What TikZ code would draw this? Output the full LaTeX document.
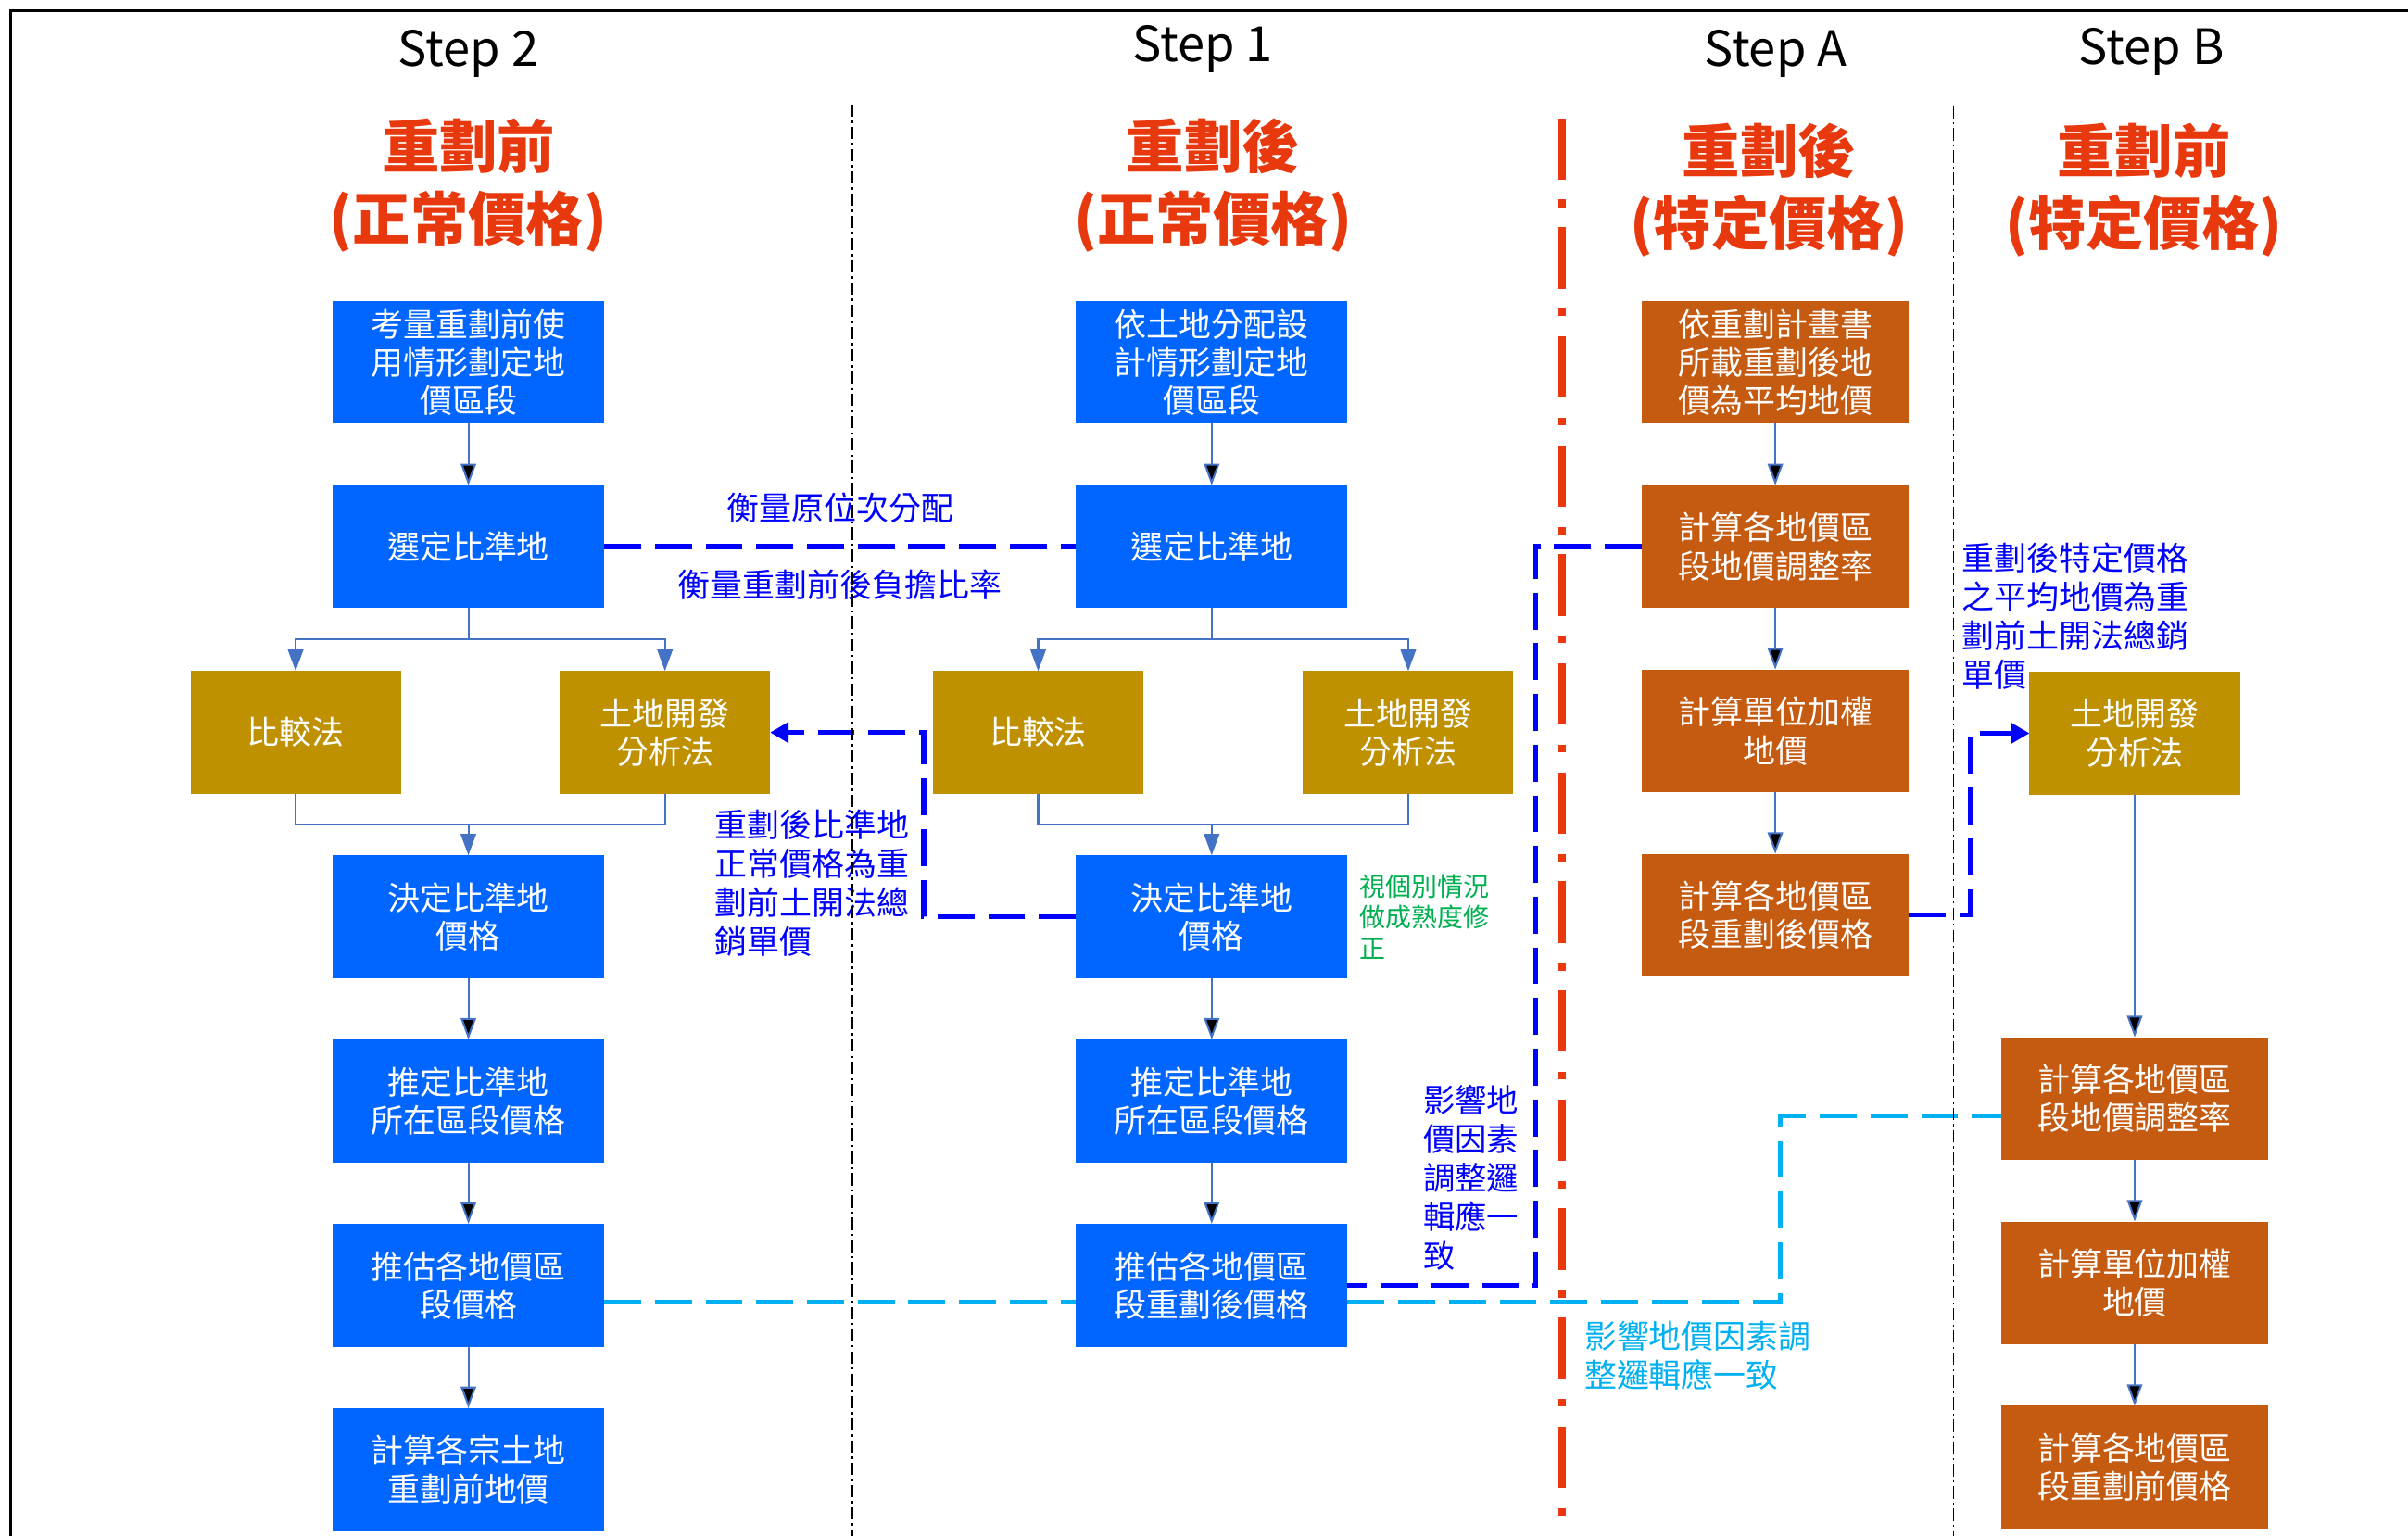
\documentclass[tikz,border=0pt]{standalone}
\usepackage{fontspec}
\setmainfont{Noto Sans CJK TC}
\usetikzlibrary{arrows.meta, positioning}
\definecolor{boxblue}{HTML}{0066FF}
\definecolor{boxgold}{HTML}{BF9000}
\definecolor{boxbrown}{HTML}{C55A11}
\definecolor{titlered}{HTML}{E8380D}
\definecolor{flowblue}{HTML}{4472C4}
\definecolor{linkblue}{HTML}{0000FF}
\definecolor{linkcyan}{HTML}{00B0F0}
\definecolor{notegreen}{HTML}{00B050}
\tikzstyle{flowchart}=[x=0.1mm, y=0.1mm, node distance=4mm, >={Triangle[length=1.4mm,width=1mm]}]
\tikzstyle{box}=[rectangle, inner sep=0pt, outer sep=0pt, minimum width=17.7mm, minimum height=8mm, align=center, text=white, font=\fontsize{6}{7.1}\selectfont]
\tikzstyle{bluebox}=[box, fill=boxblue]
\tikzstyle{goldbox}=[box, fill=boxgold, minimum width=13.7mm]
\tikzstyle{brownbox}=[box, fill=boxbrown, minimum width=17.4mm]
\tikzstyle{heading}=[font=\fontsize{9}{10}\selectfont]
\tikzstyle{period}=[text=titlered, align=center, font=\fontsize{10.7}{13.4}\selectfont\bfseries]
\tikzstyle{note}=[inner sep=0pt, anchor=west, align=left, text=linkblue, font=\fontsize{6}{7.2}\selectfont]
\tikzstyle{flow}=[draw=flowblue, line width=0.35pt, ->]
\tikzstyle{link}=[draw=linkblue, line width=0.9pt, dash pattern=on 2.4mm off 0.9mm]
\tikzstyle{cyanlink}=[draw=linkcyan, line width=0.85pt, dash pattern=on 2.4mm off 0.9mm]
\tikzstyle{linktip}=[-{Triangle[length=1.2mm,width=1.3mm]}]
\tikzstyle{divider}=[draw=black, line width=0.3pt, dash pattern=on 0.8mm off 0.25mm on 0.15mm off 0.25mm]
\tikzstyle{reddivider}=[draw=titlered, line width=1.3pt, dash pattern=on 4mm off 1.3mm on 0.5mm off 1.3mm]

\begin{document}
\begin{tikzpicture}[flowchart]
  \useasboundingbox (0,0) rectangle (1568,1000);
  \draw[line width=0.6pt] (7,0) -- (7,993) -- (1568,993);

  \node[heading] (h2) at (305,965) {Step 2};
  \node[heading] (h1) at (783,968) {Step 1};
  \node[heading] (hA) at (1156,965) {Step A};
  \node[heading] (hB) at (1401,966) {Step B};
  \node[period] (p2) at (305,879) {重劃前\\(正常價格)};
  \node[period] (p1) at (790,879) {重劃後\\(正常價格)};
  \node[period] (pA) at (1152,876) {重劃後\\(特定價格)};
  \node[period] (pB) at (1396,876) {重劃前\\(特定價格)};

  \node[bluebox] (b1) at (305,764) {考量重劃前使\\用情形劃定地\\價區段};
  \node[bluebox] (b2) [below=of b1] {選定比準地};
  \node[goldbox] (cmp1) [below=4.1mm of b2, xshift=-11.25mm] {比較法};
  \node[goldbox] (lda1) [below=4.1mm of b2, xshift=12.8mm] {土地開發\\分析法};
  \node[bluebox] (b3) [below=16.1mm of b2] {決定比準地\\價格};
  \node[bluebox] (b4) [below=of b3] {推定比準地\\所在區段價格};
  \node[bluebox] (b5) [below=of b4] {推估各地價區\\段價格};
  \node[bluebox] (b6) [below=of b5] {計算各宗土地\\重劃前地價};

  \node[bluebox] (c1) at (789,764) {依土地分配設\\計情形劃定地\\價區段};
  \node[bluebox] (c2) [below=of c1] {選定比準地};
  \node[goldbox] (cmp2) [below=4.1mm of c2, xshift=-11.3mm] {比較法};
  \node[goldbox] (lda2) [below=4.1mm of c2, xshift=12.8mm] {土地開發\\分析法};
  \node[bluebox] (c3) [below=16.1mm of c2] {決定比準地\\價格};
  \node[bluebox] (c4) [below=of c3] {推定比準地\\所在區段價格};
  \node[bluebox] (c5) [below=of c4] {推估各地價區\\段重劃後價格};

  \node[brownbox] (a1) at (1156,764) {依重劃計畫書\\所載重劃後地\\價為平均地價};
  \node[brownbox] (a2) [below=of a1] {計算各地價區\\段地價調整率};
  \node[brownbox] (a3) [below=of a2] {計算單位加權\\地價};
  \node[brownbox] (a4) [below=of a3] {計算各地價區\\段重劃後價格};

  \node[goldbox] (lda3) at (1390,522.5) {土地開發\\分析法};
  \node[brownbox] (d1) [below=15.8mm of lda3] {計算各地價區\\段地價調整率};
  \node[brownbox] (d2) [below=of d1] {計算單位加權\\地價};
  \node[brownbox] (d3) [below=of d2] {計算各地價區\\段重劃前價格};

  \path[flow] (b1) edge (b2) (b3) edge (b4) (b4) edge (b5) (b5) edge (b6);
  \draw[flow] (b2.south) -- ++(0,-20) -| (cmp1);
  \draw[flow] (b2.south) -- ++(0,-20) -| (lda1);
  \draw[flow, -] (cmp1.south) -- ++(0,-20) coordinate (m2) -| (lda1.south);
  \draw[flow] (m2 -| b3) -- (b3);

  \path[flow] (c1) edge (c2) (c3) edge (c4) (c4) edge (c5);
  \draw[flow] (c2.south) -- ++(0,-20) -| (cmp2);
  \draw[flow] (c2.south) -- ++(0,-20) -| (lda2);
  \draw[flow, -] (cmp2.south) -- ++(0,-20) coordinate (m1) -| (lda2.south);
  \draw[flow] (m1 -| c3) -- (c3);

  \path[flow] (a1) edge (a2) (a2) edge (a3) (a3) edge (a4);
  \path[flow] (lda3) edge (d1) (d1) edge (d2) (d2) edge (d3);

  \draw[link] (b2) -- (c2)
    node[note, anchor=center, midway, yshift=2.5mm] {衡量原位次分配}
    node[note, anchor=center, midway, yshift=-2.5mm] {衡量重劃前後負擔比率};
  \draw[link, linktip] (c3.west) -- ++(-99,0) |- (lda1.east);
  \node[note] (n1) at (465,425) {重劃後比準地\\正常價格為重\\劃前土開法總\\銷單價};
  \node[note, text=notegreen, font=\fontsize{4.8}{5.8}\selectfont] (n2) [right=0.7mm of c3] {視個別情況\\做成熟度修\\正};
  \draw[link] (a2.west) -- ++(-69,0) |- (c5.east);
  \node[note, font=\fontsize{5.9}{7.25}\selectfont] (n3) at (926,233) {影響地\\價因素\\調整邏\\輯應一\\致};
  \draw[link, linktip] (a4.east) -- ++(40,0) |- (lda3.west);
  \node[note] (n4) at (1277,598.5) {重劃後特定價格\\之平均地價為重\\劃前土開法總銷\\單價};

  \draw[cyanlink] ([yshift=-1.1mm]b5.east) -- ([yshift=-1.1mm]c5.west);
  \draw[cyanlink] ([yshift=-1.1mm]c5.east) -- ++(282,0) |- ([yshift=-1.1mm]d1.west);
  \node[note, text=linkcyan] (n5) at (1031,117.5) {影響地價因素調\\整邏輯應一致};

  \draw[divider] (555,932) -- (555,0);
  \draw[divider] (1272,931) -- (1272,0);
  \draw[reddivider] (1017,923) -- (1017,0);
\end{tikzpicture}
\end{document}
